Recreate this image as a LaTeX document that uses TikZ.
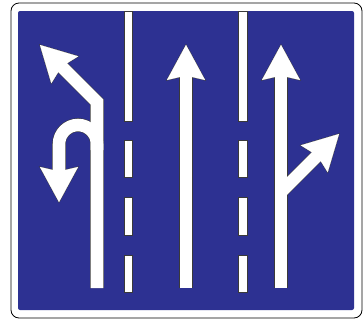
\documentclass[tikz,border=0pt]{standalone}
\usepackage{xcolor}
\definecolor{signBlue}{HTML}{2D3192}
\definecolor{edgeGray}{HTML}{3A3A3A}
\usepackage{tikz}
\usetikzlibrary{arrows.meta}

\begin{document}
\begin{tikzpicture}[x=0.75pt, y=-0.75pt,
    lane/.style={fill=white, draw=edgeGray, line width=0.4pt},
    head/.pic={\filldraw[line width=#1] (0,0) -- (19,35) -- (6.25,32) -- (-6.25,32) -- (-19,35) -- cycle;}]
        % Sign plate
        \fill[white] (0,0) rectangle (364,322);
        \draw[fill=white, draw=black, line width=0.6pt, rounded corners=6pt] (11,3) rectangle (362,318);
        \fill[signBlue, rounded corners=1.5pt] (18,11) rectangle (354,310);

        % Lane markings
        \foreach \lx in {128.5,243} {
            \draw[lane] (\lx-4.25,11.3) rectangle (\lx+4.25,121);
            \foreach \dy in {140,197.5,255}
                \draw[lane] (\lx-4.25,\dy) rectangle (\lx+4.25,\dy+37.5);
        }

        % Arrows: dark edge first, white on top
        \foreach \ink/\wd/\rim in {edgeGray/10.2pt/0.8pt, white/9.4pt/0.1pt} {
            \begin{scope}[color=\ink, line join=miter]
                \draw[line width=\wd] (97,288) -- (97,102) -- (60,65);
                \draw[line width=\wd] (97,150) -- (97,144) arc[start angle=0, end angle=-180, radius=19] -- (59,176);
                \draw[line width=\wd] (186,288) -- (186,70);
                \draw[line width=\wd] (281,288) -- (281,70);
                \draw[line width=\wd] (281,192) -- (319,154);
                \path (40,45) pic[rotate=45]{head=\rim}
                    (59,202) pic[rotate=180]{head=\rim}
                    (186,45) pic{head=\rim}
                    (281,45) pic{head=\rim}
                    (339,134) pic[rotate=-45]{head=\rim};
            \end{scope}
        }
\end{tikzpicture}
\end{document}
